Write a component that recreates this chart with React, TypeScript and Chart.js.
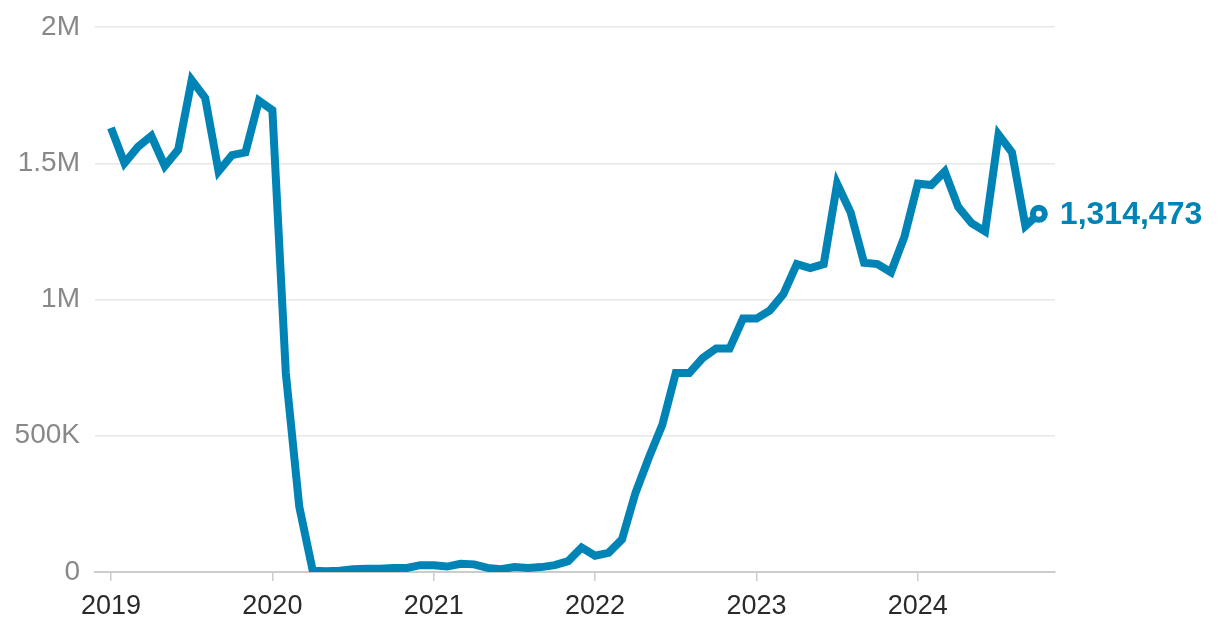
import React, { useEffect, useRef } from "react";
import { Chart, registerables } from "chart.js";

Chart.register(...registerables);

const startYear = 2019;
const yearTickLabels = ["2019", "2020", "2021", "2022", "2023", "2024"];
const yTickValues = [0, 500000, 1000000, 1500000, 2000000];
const yTickLabels = ["0", "500K", "1M", "1.5M", "2M"];

// Monthly values, Jan 2019 .. Oct 2024
const monthlyValues = [
  1630000, 1500000, 1560000, 1600000, 1490000, 1550000, 1805000, 1740000, 1470000, 1530000, 1540000, 1730000,
  1695000, 730000, 240000, 5000, 3000, 5000, 10000, 12000, 12000, 15000, 15000, 25000,
  25000, 20000, 30000, 28000, 15000, 10000, 18000, 15000, 18000, 25000, 40000, 90000,
  60000, 70000, 120000, 290000, 420000, 540000, 730000, 730000, 785000, 820000, 820000, 930000,
  930000, 960000, 1020000, 1130000, 1115000, 1130000, 1425000, 1320000, 1135000, 1130000, 1100000, 1230000,
  1425000, 1420000, 1470000, 1340000, 1280000, 1250000, 1605000, 1540000, 1270000, 1314473,
];

const BLUE = "#0084b6";
const FONT = "'Liberation Sans', Arial, sans-serif";

export default function App() {
  const ref = useRef<HTMLCanvasElement | null>(null);

  useEffect(() => {
    document.body.style.margin = "0";
    const canvas = ref.current;
    if (!canvas) return;
    const last = monthlyValues.length - 1;
    const points = monthlyValues.map((v, i) => ({ x: i, y: v }));

    const endLabel = {
      id: "endLabel",
      afterDatasetsDraw(chart: any) {
        const meta = chart.getDatasetMeta(0);
        const pt = meta.data[last];
        if (!pt) return;
        const c = chart.ctx;
        c.save();
        c.font = "bold 32px " + FONT;
        c.fillStyle = BLUE;
        c.textAlign = "left";
        c.textBaseline = "middle";
        c.fillText(monthlyValues[last].toLocaleString("en-US"), pt.x + 21, pt.y + 1);
        c.restore();
      },
    };

    const chart = new Chart(canvas, {
      type: "line",
      data: {
        datasets: [
          {
            data: points,
            borderColor: BLUE,
            borderWidth: 8,
            tension: 0,
            pointRadius: (ctx: any) => (ctx.dataIndex === last ? 6 : 0),
            pointBorderWidth: 6,
            pointBackgroundColor: "#ffffff",
            pointBorderColor: BLUE,
            pointHoverRadius: 0,
          },
        ],
      },
      options: {
        animation: false,
        responsive: false,
        maintainAspectRatio: false,
        layout: { padding: { left: 0, right: 165, top: 27, bottom: 0 } },
        plugins: { legend: { display: false }, tooltip: { enabled: false } },
        scales: {
          x: {
            type: "linear",
            min: -1.19,
            max: 70.2,
            afterBuildTicks: (s: any) => {
              s.ticks = yearTickLabels.map((_, i) => ({ value: i * 12 }));
            },
            afterFit: (s: any) => {
              s.height = 64;
              s.paddingLeft = 0;
              s.paddingRight = 0;
            },
            ticks: {
              autoSkip: false,
              maxRotation: 0,
              padding: 9,
              color: "#2a2a2a",
              font: { size: 27, family: FONT },
              callback: (v: any) => String(startYear + Math.round(Number(v) / 12)),
            },
            grid: { display: true, drawOnChartArea: false, tickLength: 9, color: "#cccccc", lineWidth: 1.5 },
            border: { display: true, color: "#cccccc", width: 2 },
          },
          y: {
            min: 0,
            max: 2000000,
            afterBuildTicks: (s: any) => {
              s.ticks = yTickValues.map((v) => ({ value: v }));
            },
            afterFit: (s: any) => {
              s.width = 95;
              s.paddingTop = 0;
              s.paddingBottom = 0;
            },
            ticks: {
              padding: 15,
              color: "#888888",
              font: { size: 28, family: FONT },
              callback: (v: any) => yTickLabels[yTickValues.indexOf(Number(v))] ?? "",
            },
            grid: { color: "#e8e8e8", lineWidth: 1.5, drawTicks: false },
            border: { display: false },
          },
        },
      },
      plugins: [endLabel],
    });
    return () => chart.destroy();
  }, []);

  return (
    <div style={{ width: 1220, height: 636 }}>
      <canvas ref={ref} width={1220} height={636} style={{ width: 1220, height: 636, display: "block" }} />
    </div>
  );
}
